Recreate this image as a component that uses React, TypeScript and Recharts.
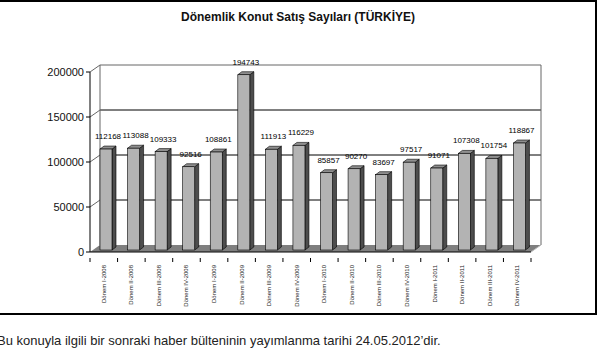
import React from 'react'
import { BarChart, Bar, XAxis, YAxis, CartesianGrid, LabelList } from 'recharts'

const periods = [
  'Dönem I-2008', 'Dönem II-2008', 'Dönem III-2008', 'Dönem IV-2008',
  'Dönem I-2009', 'Dönem II-2009', 'Dönem III-2009', 'Dönem IV-2009',
  'Dönem I-2010', 'Dönem II-2010', 'Dönem III-2010', 'Dönem IV-2010',
  'Dönem I-2011', 'Dönem II-2011', 'Dönem III-2011', 'Dönem IV-2011'
]
const sales = [
  112168, 113088, 109333, 92516,
  108861, 194743, 111913, 116229,
  85857, 90270, 83697, 97517,
  91071, 107308, 101754, 118867
]
const yTicks = [0, 50000, 100000, 150000, 200000]

const chartData = periods.map((period, i) => ({ period, sales: sales[i] }))

// layout
const W = 603
const H = 363
const M = { top: 72, right: 72, left: 30, bottom: 71 }
const PLOT_TOP = M.top
const PLOT_BOTTOM = 252
const PLOT_W = 441
const DX = 10 // wall depth
const DY = 7
const FONT = 'Arial, "Liberation Sans", sans-serif'

// bar 3d offsets
const SX = 2
const SY = -2
const BDX = 4
const BDY = 3

const Bar3D = (props: any) => {
  const { x, y, width, height } = props
  if (height == null || height <= 0) return null
  const fx = x + SX
  const fy = y + SY
  return (
    <g stroke="#000" strokeWidth={0.6}>
      <polygon
        points={`${fx + width},${fy} ${fx + width + BDX},${fy - BDY} ${fx + width + BDX},${fy + height - BDY} ${fx + width},${fy + height}`}
        fill="#4d4d4d"
      />
      <polygon
        points={`${fx},${fy} ${fx + BDX},${fy - BDY} ${fx + width + BDX},${fy - BDY} ${fx + width},${fy}`}
        fill="#8f8f8f"
      />
      <rect x={fx} y={fy} width={width} height={height} fill="#b3b3b3" />
    </g>
  )
}

const GridLine = (props: any) => {
  const { x1, x2, y1 } = props
  const isBottom = Math.abs(y1 - PLOT_BOTTOM) < 1
  const isTop = Math.abs(y1 - PLOT_TOP) < 1
  if (isBottom) {
    return (
      <g key={props.key}>
        <polygon
          points={`${x1},${y1} ${x1 + DX},${y1 - DY} ${x2 + DX},${y1 - DY} ${x2},${y1}`}
          fill="#7f7f7f"
        />
        <line x1={x2} y1={y1} x2={x2 + DX} y2={y1 - DY} stroke="#bbb" strokeWidth={1} />
      </g>
    )
  }
  return (
    <g key={props.key} fill="none">
      <line x1={x1} y1={y1} x2={x1 + DX} y2={y1 - DY} stroke="#666" strokeWidth={1} />
      <line
        x1={x1 + DX}
        y1={y1 - DY}
        x2={x2 + DX}
        y2={y1 - DY}
        stroke={isTop ? '#666' : '#000'}
        strokeWidth={1}
      />
      {isTop && (
        <>
          <line x1={x1 + DX} y1={y1 - DY} x2={x1 + DX} y2={PLOT_BOTTOM - DY} stroke="#666" />
          <line x1={x2 + DX} y1={y1 - DY} x2={x2 + DX} y2={PLOT_BOTTOM - DY} stroke="#666" />
        </>
      )}
    </g>
  )
}

const PeriodTick = (props: any) => {
  const { x, y, payload, index } = props
  const half = PLOT_W / periods.length / 2
  return (
    <g>
      <line x1={x + half} y1={y - 2} x2={x + half} y2={y + 2} stroke="#000" />
      {index === 0 && <line x1={x - half} y1={y - 2} x2={x - half} y2={y + 2} stroke="#000" />}
      <text
        x={0}
        y={0}
        transform={`translate(${x + 2},${y + 5}) rotate(-90)`}
        textAnchor="end"
        fontSize={6}
        fontFamily={FONT}
        fill="#222"
      >
        {payload.value}
      </text>
    </g>
  )
}

const ValueLabel = (props: any) => {
  const { x, y, width, value } = props
  return (
    <text
      x={x + width / 2 + SX + 2}
      y={y + SY - 10}
      textAnchor="middle"
      fontSize={8}
      fontFamily={FONT}
      fill="#000"
    >
      {value}
    </text>
  )
}

const App: React.FC = () => {
  return (
    <div style={{ position: 'absolute', left: 0, top: 0, width: W, height: H, background: '#fff', fontFamily: FONT }}>
      <div
        style={{
          position: 'absolute',
          left: -4,
          top: 0,
          width: 601,
          height: 315,
          border: '2px solid #000',
          boxSizing: 'border-box'
        }}
      />
      <div
        style={{
          position: 'absolute',
          left: 0,
          top: 10,
          width: 596,
          textAlign: 'center',
          fontSize: 12,
          fontWeight: 'bold',
          color: '#111'
        }}
      >
        Dönemlik Konut Satış Sayıları (TÜRKİYE)
      </div>
      <div style={{ position: 'absolute', left: 0, top: 0 }}>
        <BarChart width={W} height={H} data={chartData} margin={M} barSize={12}>
          <CartesianGrid horizontal={GridLine} vertical={false} />
          <XAxis
            dataKey="period"
            height={40}
            interval={0}
            axisLine={{ stroke: '#000' }}
            tickLine={false}
            tick={<PeriodTick />}
          />
          <YAxis
            width={60}
            domain={[0, 200000]}
            ticks={yTicks}
            interval={0}
            axisLine={{ stroke: '#000' }}
            tickLine={{ stroke: '#000' }}
            tickSize={4}
            tickMargin={2}
            tick={{ fontSize: 11, fill: '#111', fontFamily: FONT }}
          />
          <Bar dataKey="sales" shape={Bar3D} isAnimationActive={false}>
            <LabelList dataKey="sales" content={ValueLabel} />
          </Bar>
        </BarChart>
      </div>
      <div
        style={{
          position: 'absolute',
          left: -3,
          top: 333,
          fontSize: 13,
          color: '#222',
          whiteSpace: 'nowrap'
        }}
      >
        Bu konuyla ilgili bir sonraki haber bülteninin yayımlanma tarihi 24.05.2012’dir.
      </div>
    </div>
  )
}

export default App
